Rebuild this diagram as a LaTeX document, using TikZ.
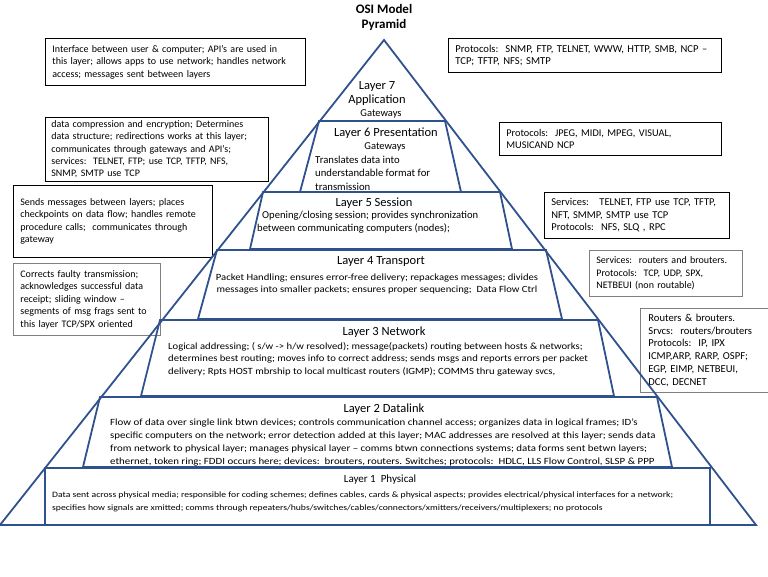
\documentclass[tikz,border=0pt]{standalone}
\usepackage{fontspec}
\setmainfont{Carlito}
\newfontfamily\wideA[FakeStretch=1.12]{Carlito}
\newfontfamily\wideB[FakeStretch=1.18]{Carlito}
\newfontfamily\wideC[FakeStretch=1.145]{Carlito}
\definecolor{pyrblue}{RGB}{47,82,143}
\definecolor{boxgray}{RGB}{128,128,128}
\tikzset{
  layerline/.style={draw=pyrblue, line width=1.8pt, line join=miter},
  infobox/.style={draw=black, line width=0.8pt, anchor=north west, align=left,
    inner xsep=7pt, inner ysep=3pt, font=\fontsize{10}{12.5}\selectfont},
  grayinfo/.style={infobox, draw=boxgray},
  layername/.style={inner sep=0pt, align=center, font=\fontsize{12.5}{14}\selectfont},
  layertext/.style={inner sep=0pt, align=left, font=\wideA\fontsize{9.5}{12.6}\selectfont},
}
\begin{document}
\begin{tikzpicture}[x=1pt,y=-1pt]
\useasboundingbox (0,0) rectangle (768,576);
% boxes on the left
\node[infobox, text width=246, minimum height=47] (app) at (45,38)
  {Interface between user \& computer; API’s are used in\\this layer; allows apps to use network; handles network\\access; messages sent between layers};
\node[infobox, text width=211, inner xsep=6pt, inner ysep=1.5pt, minimum height=64,
  font=\fontsize{10}{12.3}\selectfont] (pres) at (45,117)
  {data compression and encryption; Determines\\data structure; redirections works at this layer;\\communicates through gateways and API’s;\\services:\ \ TELNET, FTP; use TCP, TFTP, NFS,\\SNMP, SMTP use TCP};
\node[infobox, text width=185, minimum height=72] (sess) at (13,185)
  {Sends messages between layers; places\\checkpoints on data flow; handles remote\\procedure calls;\ \ communicates through\\gateway\\[10pt]};
\node[grayinfo, text width=133, minimum height=72] (trans) at (13,263)
  {Corrects faulty transmission;\\acknowledges successful data\\receipt; sliding window –\\segments of msg frags sent to\\this layer TCP/SPX oriented};
% boxes on the right
\node[infobox, text width=259, minimum height=34, font=\fontsize{10.6}{12.5}\selectfont] (appprot) at (448,38)
  {Protocols:\ \ SNMP, FTP, TELNET, WWW, HTTP, SMB, NCP –\\TCP; TFTP, NFS; SMTP};
\node[infobox, text width=208, minimum height=33, font=\fontsize{10.3}{12.5}\selectfont] (presprot) at (499,122)
  {Protocols:\ \ JPEG, MIDI, MPEG, VISUAL,\\MUSICAND NCP};
\node[infobox, text width=171, minimum height=46, font=\fontsize{10.5}{12.5}\selectfont] (sessprot) at (544,192)
  {Services:\ \ \ TELNET, FTP use TCP, TFTP,\\NFT, SMMP, SMTP use TCP\\Protocols:\ \ NFS, SLQ , RPC};
\node[grayinfo, text width=139, minimum height=46] (transprot) at (589,250)
  {Services:\ \ routers and brouters.\\Protocols:\ \ TCP, UDP, SPX,\\NETBEUI (non routable)};
\node[grayinfo, text width=124, inner xsep=8pt, minimum height=84,
  font=\fontsize{10.6}{12.9}\selectfont] (netprot) at (640,308)
  {Routers \& brouters.\\Srvcs:\ \ routers/brouters\\Protocols:\ \ IP, IPX\\ICMP,ARP, RARP, OSPF;\\EGP, EIMP, NETBEUI,\\DCC, DECNET};
% pyramid
\draw[layerline] (0,525) -- (384,40) -- (756,525) -- cycle;
\foreach \yt/\xa/\xb/\yb/\xc/\xd in {121/319/445/192/300/461, 192/263/500/249/250/512,
  250/217/546/319/198/562, 320/160/598/396/141/614, 397/100/657/467/83/672, 468/45/710/525/45/710}
  \draw[layerline] (\xa,\yt) -- (\xb,\yt) -- (\xd,\yb) -- (\xc,\yb) -- cycle;
% title and layer texts
\node[inner sep=0pt, align=center, font=\bfseries\fontsize{13}{15}\selectfont] (title) at (384,17.5) {OSI Model\\Pyramid};
\node[layername] (l7) at (377,93) {Layer 7\\Application};
\node[inner sep=0pt, font=\fontsize{10.5}{12}\selectfont] (gw7) at (381,114) {Gateways};
\node[layername] (l6) at (386,133) {Layer 6 Presentation};
\node[inner sep=0pt, font=\fontsize{10.5}{12}\selectfont] (gw6) at (385,147) {Gateways};
\node[layertext, anchor=west, font=\fontsize{10.7}{13.4}\selectfont] (l6txt) at (315,173)
  {Translates data into\\understandable format for\\transmission};
\node[layername] (l5) at (374,203) {Layer 5 Session};
\node[layertext, anchor=west, font=\fontsize{10.6}{13}\selectfont] (l5txt) at (257,222.5)
  {\hspace*{5pt}Opening/closing session; provides synchronization\\between communicating computers (nodes);};
\node[layername] (l4) at (381,261) {Layer 4 Transport};
\node[layertext, align=center] (l4txt) at (377,284)
  {Packet Handling; ensures error-free delivery; repackages messages; divides\\messages into smaller packets; ensures proper sequencing;\ \ Data Flow Ctrl};
\node[layername] (l3) at (384,332) {Layer 3 Network};
\node[layertext, anchor=west] (l3txt) at (168,359)
  {Logical addressing; ( s/w -> h/w resolved); message(packets) routing between hosts \& networks;\\determines best routing; moves info to correct address; sends msgs and reports errors per packet\\delivery; Rpts HOST mbrship to local multicast routers (IGMP); COMMS thru gateway svcs,};
\node[layername] (l2) at (384,409) {Layer 2 Datalink};
\node[layertext, anchor=west, font=\wideC\fontsize{9.5}{13}\selectfont] (l2txt) at (110,442.5)
  {Flow of data over single link btwn devices; controls communication channel access; organizes data in logical frames; ID’s\\specific computers on the network; error detection added at this layer; MAC addresses are resolved at this layer; sends data\\from network to physical layer; manages physical layer – comms btwn connections systems; data forms sent betwn layers;\\ethernet, token ring; FDDI occurs here; devices:\ \ brouters, routers. Switches; protocols:\ \ HDLC, LLS Flow Control, SLSP \& PPP};
\node[layername, font=\fontsize{11}{13}\selectfont] (l1) at (380,480) {Layer 1\ \ Physical};
\node[layertext, anchor=west, font=\wideB\fontsize{8.2}{13}\selectfont] (l1txt) at (52,501.5)
  {Data sent across physical media; responsible for coding schemes; defines cables, cards \& physical aspects; provides electrical/physical interfaces for a network;\\specifies how signals are xmitted; comms through repeaters/hubs/switches/cables/connectors/xmitters/receivers/multiplexers; no protocols};
\end{tikzpicture}
\end{document}
